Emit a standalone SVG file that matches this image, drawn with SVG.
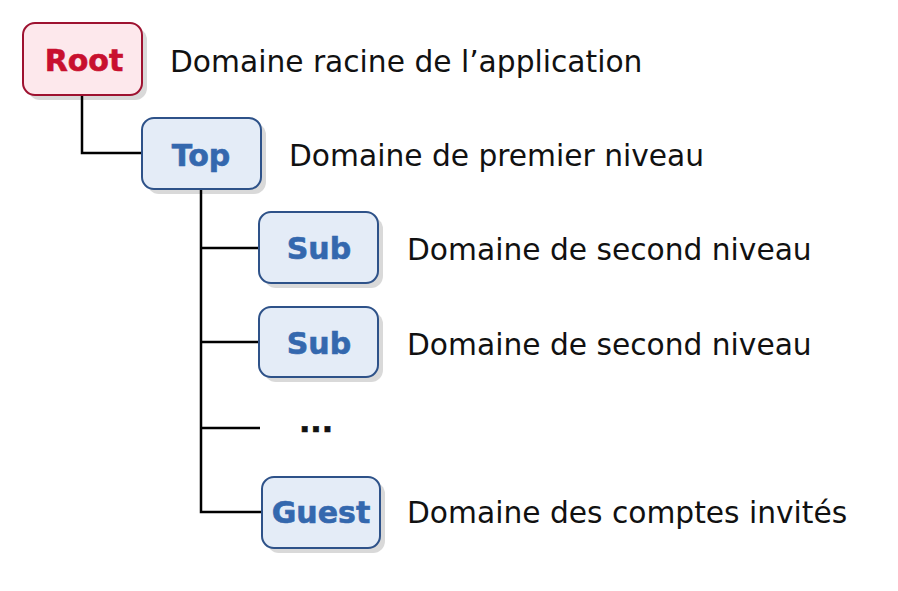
<svg xmlns="http://www.w3.org/2000/svg" width="898" height="591" viewBox="0 0 898 591">
<style>
.shadow{fill:#d9d9d9}
.box{fill:#e4ecf7;stroke:#2e5289;stroke-width:2}
.rbox{fill:#fde8ec;stroke:#9e1230;stroke-width:2}
.lbl{font-family:"DejaVu Sans",sans-serif;font-weight:bold;font-size:30px;fill:#3468ae;stroke:#3468ae;stroke-width:0.6;text-anchor:middle}
.rlbl{fill:#c8102e;stroke:#c8102e}
.desc{font-family:"DejaVu Sans",sans-serif;font-size:29.7px;fill:#111}
.conn{fill:none;stroke:#000;stroke-width:2.5}
</style>
<rect width="898" height="591" fill="#fff"/>
<g id="root">
<rect class="shadow" x="28" y="28" width="119" height="72" rx="12"/>
<rect class="rbox" x="23" y="23" width="119" height="72" rx="12"/>
<text class="lbl rlbl" x="84" y="71">Root</text>
<text class="desc" x="170" y="72">Domaine racine de l’application</text>
</g>
<g id="top">
<rect class="shadow" x="147" y="123" width="119" height="71" rx="12"/>
<rect class="box" x="142" y="118" width="119" height="71" rx="12"/>
<text class="lbl" x="201" y="166">Top</text>
<text class="desc" x="289" y="166">Domaine de premier niveau</text>
</g>
<g id="sub1">
<rect class="shadow" x="264" y="217" width="119" height="71" rx="12"/>
<rect class="box" x="259" y="212" width="119" height="71" rx="12"/>
<text class="lbl" x="319" y="259">Sub</text>
<text class="desc" x="407" y="260">Domaine de second niveau</text>
</g>
<g id="sub2">
<rect class="shadow" x="264" y="312" width="119" height="70" rx="12"/>
<rect class="box" x="259" y="307" width="119" height="70" rx="12"/>
<text class="lbl" x="319" y="354">Sub</text>
<text class="desc" x="407" y="355">Domaine de second niveau</text>
</g>
<g id="ellipsis">
<text class="lbl" style="fill:#111;stroke:#111" x="316" y="432">...</text>
</g>
<g id="guest">
<rect class="shadow" x="267" y="482" width="118" height="71" rx="12"/>
<rect class="box" x="262" y="477" width="118" height="71" rx="12"/>
<text class="lbl" x="321" y="523">Guest</text>
<text class="desc" x="407" y="523">Domaine des comptes invités</text>
</g>
<g id="connectors">
<path class="conn" d="M82 96 V153 H141"/>
<path class="conn" d="M201 190 V512 H261"/>
<path class="conn" d="M201 248 H258 M201 342 H258 M201 428 H260"/>
</g>
</svg>
